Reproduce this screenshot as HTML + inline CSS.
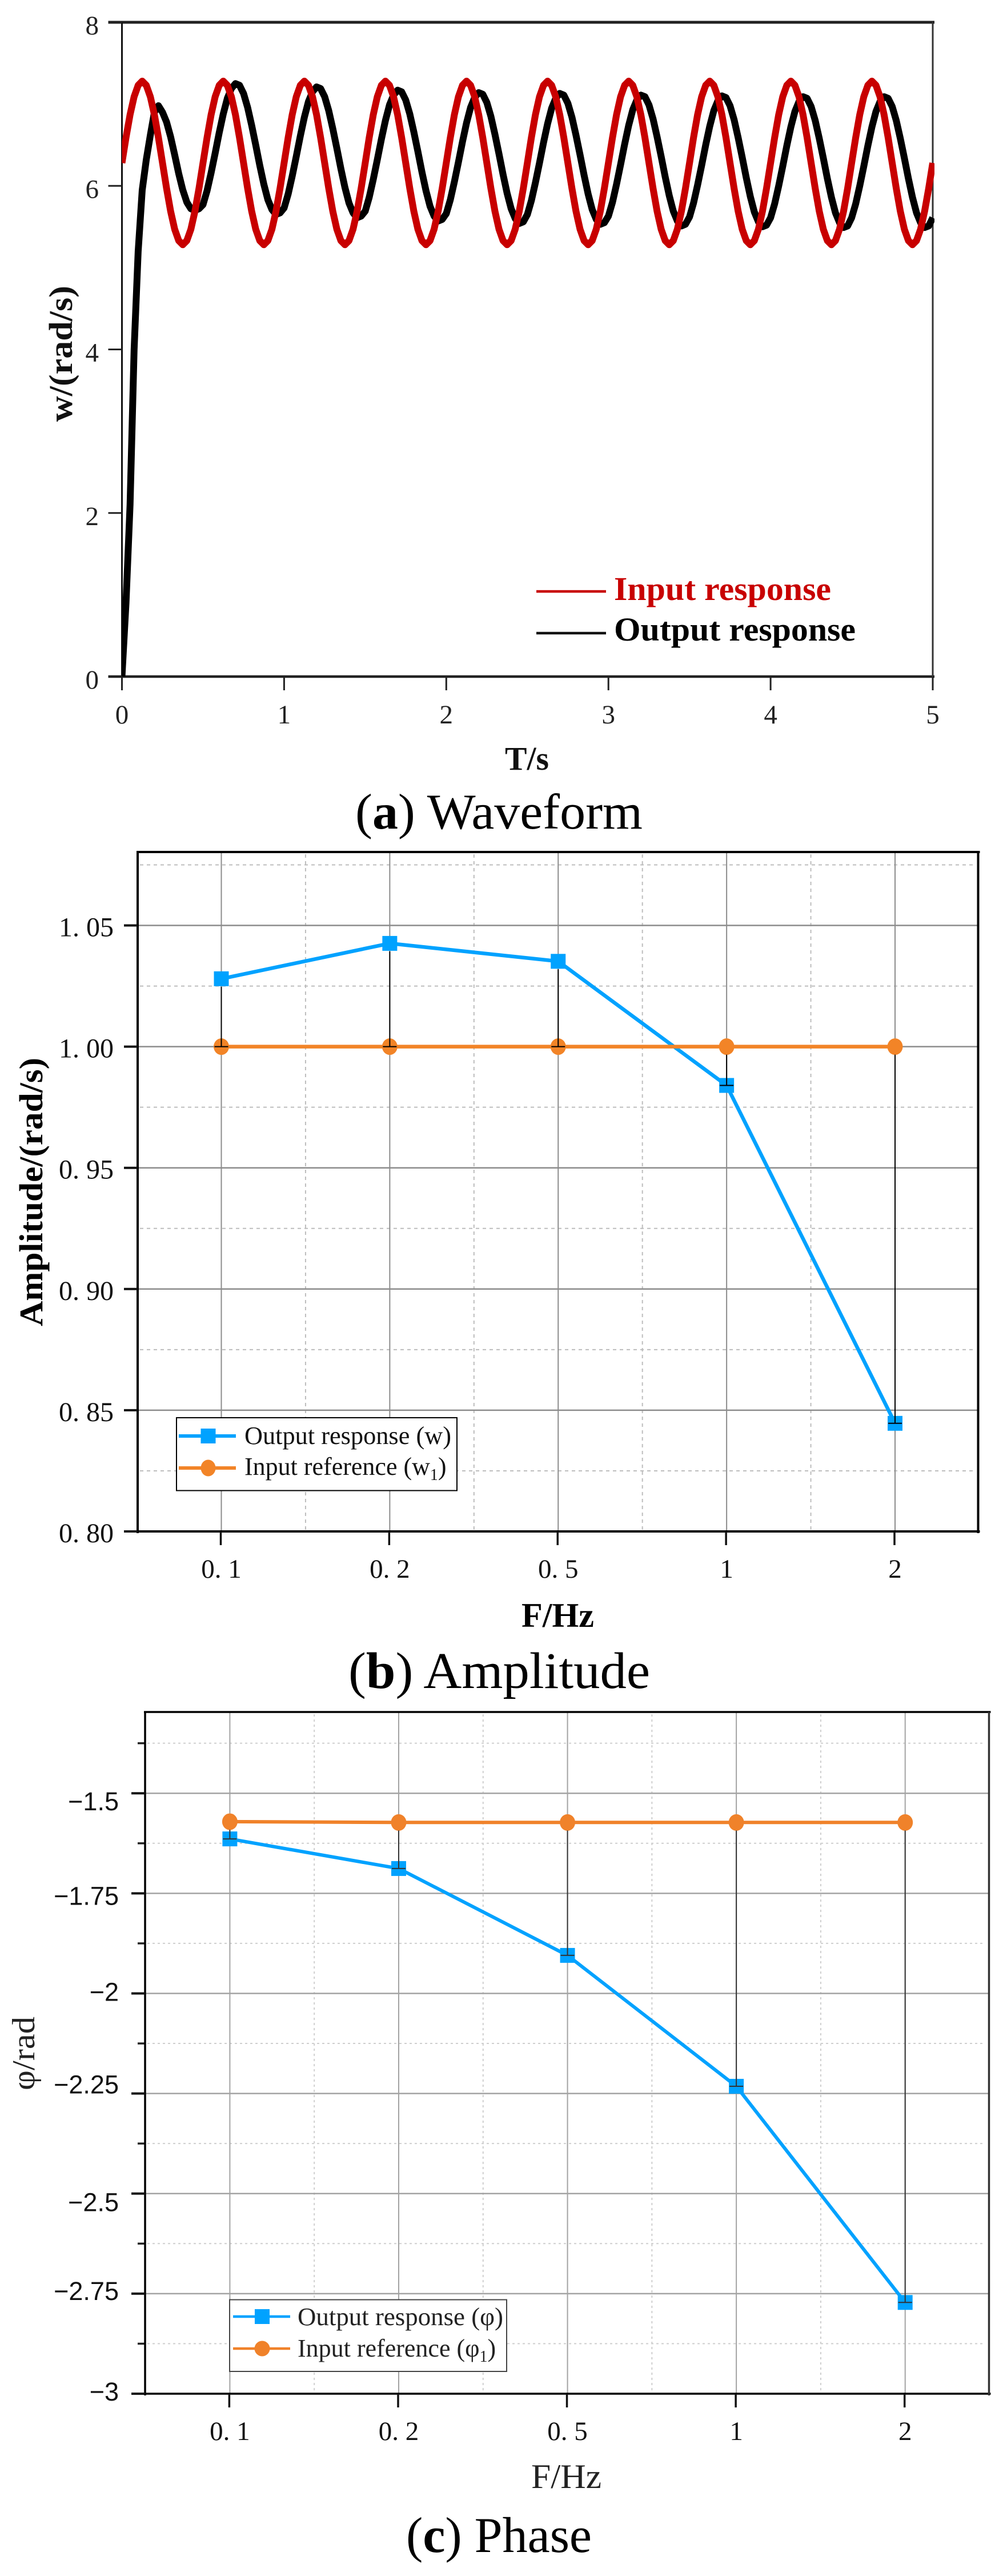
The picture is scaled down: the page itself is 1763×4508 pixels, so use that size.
<!DOCTYPE html>
<html lang="en">
<head>
<meta charset="utf-8">
<title>Waveform, amplitude and phase response</title>
<style>
html,body{margin:0;padding:0;background:#fff;}
svg{display:block;}
text{font-family:"Liberation Serif",serif;fill:#111;}
.sans{font-family:"Liberation Sans",sans-serif;}
</style>
</head>
<body>
<svg id="figure" xmlns="http://www.w3.org/2000/svg" width="1763" height="4508" viewBox="0 0 1763 4508">
  <rect x="0" y="0" width="1763" height="4508" fill="#fff"/>
  <defs>
    <clipPath id="clip-a"><rect x="213" y="39" width="423" height="10"/></clipPath>
  </defs>

  <!-- Panel a -->
  <g id="panel-a"></g>
  <g>
    <line x1="939" x2="1061" y1="1035" y2="1035" stroke="#c80000" stroke-width="4.5"/>
    <text x="1075" y="1050" font-size="58" font-weight="bold" textLength="380" lengthAdjust="spacingAndGlyphs" style="fill:#c80000">Input response</text>
    <line x1="939" x2="1061" y1="1108" y2="1108" stroke="#111" stroke-width="4.5"/>
    <text x="1075" y="1121" font-size="58" font-weight="bold" textLength="423" lengthAdjust="spacingAndGlyphs" style="fill:#000">Output response</text>
  </g>
  <text x="884" y="1347" font-size="58" font-weight="bold" textLength="77" lengthAdjust="spacingAndGlyphs">T/s</text>
  <text transform="translate(126,738) rotate(-90)" font-size="58" font-weight="bold" textLength="238" lengthAdjust="spacingAndGlyphs">w/(rad/s)</text>
  <text x="622" y="1450" font-size="88" textLength="503" lengthAdjust="spacingAndGlyphs" style="fill:#000">(<tspan font-weight="bold">a</tspan>) Waveform</text>

  <!-- Panel b -->
  <g id="panel-b"></g>
  <g>
    <rect x="309" y="2481" width="491" height="127.5" fill="#fff" stroke="#000" stroke-width="2"/>
    <line x1="313" x2="413" y1="2513" y2="2513" stroke="#00a2ff" stroke-width="6"/>
    <rect x="351.5" y="2500" width="26" height="26" fill="#00a2ff"/>
    <text x="428" y="2527" font-size="44" textLength="362" lengthAdjust="spacingAndGlyphs">Output response (w)</text>
    <line x1="313" x2="413" y1="2569" y2="2569" stroke="#f28427" stroke-width="6"/>
    <ellipse cx="364.5" cy="2569" rx="13" ry="14.5" fill="#f28427"/>
    <text x="428" y="2581" font-size="44">Input reference (w<tspan dy="9" font-size="28">1</tspan><tspan dy="-9">)</tspan></text>
  </g>
  <text x="913" y="2847" font-size="60" font-weight="bold" textLength="127" lengthAdjust="spacingAndGlyphs" style="fill:#000">F/Hz</text>
  <text transform="translate(74,2321) rotate(-90)" font-size="58" font-weight="bold" textLength="470" lengthAdjust="spacingAndGlyphs" style="fill:#000">Amplitude/(rad/s)</text>
  <text x="610" y="2954" font-size="90" textLength="528" lengthAdjust="spacingAndGlyphs" style="fill:#000">(<tspan font-weight="bold">b</tspan>) Amplitude</text>

  <!-- Panel c -->
  <g id="panel-c"></g>
  <g>
    <rect x="402" y="4024.5" width="485" height="125.5" fill="#fff" stroke="#444" stroke-width="2"/>
    <line x1="408" x2="508" y1="4054" y2="4054" stroke="#00a2ff" stroke-width="4.5"/>
    <rect x="446" y="4041" width="26" height="26" fill="#00a2ff"/>
    <text x="521" y="4069" font-size="44" textLength="360" lengthAdjust="spacingAndGlyphs" style="fill:#222">Output response (φ)</text>
    <line x1="408" x2="508" y1="4110" y2="4110" stroke="#f0822a" stroke-width="4.5"/>
    <ellipse cx="459" cy="4110" rx="13.5" ry="13.5" fill="#f0822a"/>
    <text x="521" y="4124" font-size="44" style="fill:#222">Input reference (φ<tspan dy="9" font-size="28">1</tspan><tspan dy="-9">)</tspan></text>
  </g>
  <text x="930" y="4354" font-size="60" textLength="123" lengthAdjust="spacingAndGlyphs" style="fill:#222">F/Hz</text>
  <text transform="translate(60,3658) rotate(-90)" font-size="56" textLength="129" lengthAdjust="spacingAndGlyphs" style="fill:#222">φ/rad</text>
  <text x="711" y="4466" font-size="88" textLength="325" lengthAdjust="spacingAndGlyphs" style="fill:#000">(<tspan font-weight="bold">c</tspan>) Phase</text>
</svg>

<script>
// ---------- Panel (a) data: waveform, sampled every 0.025 s ----------
const waveTimeStep = 0.025;
const waveInput = [
6.28,6.59,6.87,7.09,7.23,7.28,7.23,7.09,6.87,6.59,6.28,5.97,5.69,5.47,5.33,5.28,5.33,5.47,5.69,5.97,
6.28,6.59,6.87,7.09,7.23,7.28,7.23,7.09,6.87,6.59,6.28,5.97,5.69,5.47,5.33,5.28,5.33,5.47,5.69,5.97,
6.28,6.59,6.87,7.09,7.23,7.28,7.23,7.09,6.87,6.59,6.28,5.97,5.69,5.47,5.33,5.28,5.33,5.47,5.69,5.97,
6.28,6.59,6.87,7.09,7.23,7.28,7.23,7.09,6.87,6.59,6.28,5.97,5.69,5.47,5.33,5.28,5.33,5.47,5.69,5.97,
6.28,6.59,6.87,7.09,7.23,7.28,7.23,7.09,6.87,6.59,6.28,5.97,5.69,5.47,5.33,5.28,5.33,5.47,5.69,5.97,
6.28,6.59,6.87,7.09,7.23,7.28,7.23,7.09,6.87,6.59,6.28,5.97,5.69,5.47,5.33,5.28,5.33,5.47,5.69,5.97,
6.28,6.59,6.87,7.09,7.23,7.28,7.23,7.09,6.87,6.59,6.28,5.97,5.69,5.47,5.33,5.28,5.33,5.47,5.69,5.97,
6.28,6.59,6.87,7.09,7.23,7.28,7.23,7.09,6.87,6.59,6.28,5.97,5.69,5.47,5.33,5.28,5.33,5.47,5.69,5.97,
6.28,6.59,6.87,7.09,7.23,7.28,7.23,7.09,6.87,6.59,6.28,5.97,5.69,5.47,5.33,5.28,5.33,5.47,5.69,5.97,
6.28,6.59,6.87,7.09,7.23,7.28,7.23,7.09,6.87,6.59,6.28,5.97,5.69,5.47,5.33,5.28,5.33,5.47,5.69,5.97,
6.28];
const waveOutput = [
0,0.9,2.1,4.0,5.2,5.95,6.32,6.62,6.9,6.98,6.90,6.78,6.60,6.38,6.15,5.95,5.80,5.72,5.70,5.72,
5.77,5.94,6.16,6.40,6.65,6.88,7.07,7.19,7.25,7.23,7.13,6.96,6.74,6.50,6.25,6.02,5.83,5.71,5.65,5.67,
5.73,5.90,6.12,6.36,6.61,6.84,7.03,7.15,7.21,7.19,7.09,6.92,6.70,6.46,6.21,5.98,5.79,5.67,5.61,5.63,
5.69,5.86,6.08,6.32,6.57,6.80,6.99,7.11,7.17,7.15,7.05,6.88,6.66,6.42,6.17,5.94,5.75,5.63,5.57,5.59,
5.66,5.83,6.05,6.29,6.54,6.77,6.96,7.08,7.14,7.12,7.02,6.85,6.63,6.39,6.14,5.91,5.72,5.60,5.54,5.56,
5.65,5.82,6.04,6.28,6.53,6.76,6.95,7.07,7.13,7.11,7.01,6.84,6.62,6.38,6.13,5.90,5.71,5.59,5.53,5.55,
5.63,5.80,6.02,6.26,6.51,6.74,6.93,7.05,7.11,7.09,6.99,6.82,6.60,6.36,6.11,5.88,5.69,5.57,5.51,5.53,
5.62,5.79,6.01,6.25,6.50,6.73,6.92,7.04,7.10,7.08,6.98,6.81,6.59,6.35,6.10,5.87,5.68,5.56,5.50,5.52,
5.61,5.78,6.00,6.24,6.49,6.72,6.91,7.03,7.09,7.07,6.97,6.80,6.58,6.34,6.09,5.86,5.67,5.55,5.49,5.51,
5.61,5.78,6.00,6.24,6.49,6.72,6.91,7.03,7.09,7.07,6.97,6.80,6.58,6.34,6.09,5.86,5.67,5.55,5.49,5.51,
5.61];
const waveXTicks = [0,1,2,3,4,5];
const waveYTicks = [0,2,4,6,8];

// ---------- Panel (b) data: amplitude ----------
const freqLabels = ["0. 1","0. 2","0. 5","1","2"];
const ampOutput = [1.028,1.0426,1.0352,0.984,0.8446];
const ampInput = [1,1,1,1,1];
const ampYTicks = [0.80,0.85,0.90,0.95,1.00,1.05];
const ampYTickLabels = ["0. 80","0. 85","0. 90","0. 95","1. 00","1. 05"];
const ampYMinor = [0.825,0.875,0.925,0.975,1.025,1.075];

// ---------- Panel (c) data: phase ----------
const phaseOutput = [-1.614,-1.688,-1.905,-2.232,-2.772];
const phaseInput = [-1.571,-1.573,-1.573,-1.573,-1.573];
const phaseYTicks = [-3,-2.75,-2.5,-2.25,-2,-1.75,-1.5];
const phaseYTickLabels = ["\u22123","\u22122.75","\u22122.5","\u22122.25","\u22122","\u22121.75","\u22121.5"];
const phaseYMinor = [-2.875,-2.625,-2.375,-2.125,-1.875,-1.625,-1.375];

const NS = "http://www.w3.org/2000/svg";
function make(parent, tag, attrs, txt) {
  const el = document.createElementNS(NS, tag);
  for (const k in attrs) el.setAttribute(k, attrs[k]);
  if (txt !== undefined) el.textContent = txt;
  parent.appendChild(el);
  return el;
}
function hline(parent, x1, x2, y, stroke, w, dash) {
  const el = make(parent, "line", {x1:x1, x2:x2, y1:y, y2:y, stroke:stroke, "stroke-width":w});
  if (dash) el.setAttribute("stroke-dasharray", dash);
  return el;
}
function vline(parent, x, y1, y2, stroke, w, dash) {
  const el = make(parent, "line", {x1:x, x2:x, y1:y1, y2:y2, stroke:stroke, "stroke-width":w});
  if (dash) el.setAttribute("stroke-dasharray", dash);
  return el;
}

/* ===== Panel (a) ===== */
(function () {
  const g = document.getElementById("panel-a");
  const box = {l:213.5, r:1633, t:39, b:1184};
  const xA = v => box.l + (v - 0) * (box.r - box.l) / 5;
  const yA = v => box.b - (v - 0) * (box.b - box.t) / 8;

  const clip = document.querySelector("#clip-a rect");
  clip.setAttribute("x", box.l);
  clip.setAttribute("y", box.t);
  clip.setAttribute("width", box.r - box.l + 3);
  clip.setAttribute("height", box.b - box.t);

  const top = hline(g, box.l - 24, box.r + 3, box.t, "#222", 5);
  
  
  const bottom = hline(g, box.l - 24, box.r + 3, box.b, "#222", 4.5);
  
  
  const left = vline(g, box.l, box.t, box.b + 24, "#111", 3);
  
  
  const right = vline(g, box.r, box.t, box.b + 24, "#333", 3);
  
  

  waveYTicks.forEach(v => {
    const y = yA(v);
    const tick = hline(g, box.l - 24, box.l, y, "#222", 3);
    
    
    const lab = make(g, "text", {x:173, y:y + 21, "text-anchor":"end", "font-size":47, style:"fill:#222"}, String(v));
    
    
  });
  waveXTicks.forEach(v => {
    const x = xA(v);
    const tick = vline(g, x, box.b, box.b + 24, "#222", 3);
    
    
    const lab = make(g, "text", {x:x, y:1266, "text-anchor":"middle", "font-size":47, style:"fill:#222"}, String(v));
    
    
  });

  const pts = arr => arr.map((v, i) => xA(i * waveTimeStep).toFixed(1) + "," + yA(v).toFixed(1)).join(" ");
  const outLine = make(g, "polyline", {points:pts(waveOutput), fill:"none", stroke:"#000", "stroke-width":12, "stroke-linejoin":"round", "clip-path":"url(#clip-a)"});
  
  
  const inLine = make(g, "polyline", {points:pts(waveInput), fill:"none", stroke:"#c80000", "stroke-width":12, "stroke-linejoin":"round", "clip-path":"url(#clip-a)"});
  
  
})();

/* ===== Shared category chart for panels (b) and (c) ===== */
function categoryChart(g, opt) {
  const box = opt.box;
  const step = (box.x4 - box.x0) / 4;
  const xC = i => box.x0 + i * step;
  const yC = v => box.b - (v - opt.yMin) * (box.b - box.t) / (opt.yMax - opt.yMin);

  // minor grid
  opt.minorY.forEach(v => {
    const ln = hline(g, box.l + 4, box.r - 8, yC(v), opt.minorColor, 2, opt.minorDash);
    
    
    if (opt.minorTicks) {
      const t = hline(g, box.l - 13, box.l, yC(v), "#222", 3.5);
      
      
    }
  });
  for (let i = 0; i < 4; i++) {
    const ln = vline(g, xC(i + 0.5), box.t + 4, box.b, opt.minorColor, 2, opt.minorDash);
    
    
  }
  // major grid
  opt.ticks.forEach(v => {
    const ln = hline(g, box.l, box.r, yC(v), opt.gridColor, 2.5);
    
    
  });
  opt.labels.forEach((lab, i) => {
    const ln = vline(g, xC(i), box.t, box.b, opt.gridColor, 2);
    
    
  });

  // axes frame
  const top = hline(g, box.l - 2, box.r + 3, box.t, "#000", opt.axisW);
  
  
  const bot = hline(g, box.l - 24, box.r + 3, box.b, "#000", opt.axisW);
  
  
  const lft = vline(g, box.l, box.t, box.b + 3, "#000", opt.axisW);
  
  
  const rgt = vline(g, box.r, box.t, box.b + 3, opt.rightColor, opt.axisW);
  
  

  // ticks + labels
  opt.ticks.forEach((v, i) => {
    const y = yC(v);
    const tk = hline(g, box.l - 24, box.l, y, "#111", 4);
    
    
    const lab = make(g, "text", {x:opt.yLabelRight, y:y + opt.labelNudge(i), "text-anchor":"end", "font-size":opt.yLabelSize, class:opt.yLabelClass, style:"fill:#111"}, opt.tickLabels[i]);
    
    
  });
  opt.labels.forEach((t, i) => {
    const x = xC(i);
    const tk = vline(g, x - 1, box.b, box.b + 24, "#111", 3.5);
    
    
    const lab = make(g, "text", {x:x, y:opt.xLabelBase, "text-anchor":"middle", "font-size":47, style:"fill:#111"}, t);
    
    
  });

  // series lines
  const pts = arr => arr.map((v, i) => xC(i).toFixed(1) + "," + yC(v).toFixed(1)).join(" ");
  const outL = make(g, "polyline", {points:pts(opt.output), fill:"none", stroke:"#00a2ff", "stroke-width":opt.lineW});
  
  
  const inL = make(g, "polyline", {points:pts(opt.input), fill:"none", stroke:opt.orange, "stroke-width":opt.lineW});
  
  

  // markers
  opt.output.forEach((v, i) => {
    const m = make(g, "rect", {x:xC(i) - 13, y:yC(v) - 13, width:26, height:26, fill:"#00a2ff"});
    
    
  });
  opt.input.forEach((v, i) => {
    const m = make(g, "ellipse", {cx:xC(i), cy:yC(v), rx:13.5, ry:14.5, fill:opt.orange});
    
    
  });

  // error bars between the two series, cap on the lower value
  opt.output.forEach((v, i) => {
    const yo = yC(v), yi = yC(opt.input[i]);
    const upper = Math.min(yo, yi), lower = Math.max(yo, yi);
    const bar = vline(g, xC(i), upper + 14, lower, opt.barColor, 2);
    
    
    const cap = hline(g, xC(i) - 12, xC(i) + 12, lower, opt.barColor, 2);
    
    
  });
}

/* ===== Panel (b) ===== */
categoryChart(document.getElementById("panel-b"), {
  box:{l:241, r:1712.5, t:1491, b:2680, x0:387.5, x4:1567},
  yMin:0.80, yMax:1.0803,
  ticks:ampYTicks, tickLabels:ampYTickLabels, minorY:ampYMinor, labels:freqLabels,
  output:ampOutput, input:ampInput,
  minorColor:"#bdbdbd", minorDash:"6 6", minorTicks:false,
  gridColor:"#8c8c8c", axisW:4, rightColor:"#000", lineW:6.5,
  yLabelRight:199, yLabelSize:48, yLabelClass:"", xLabelBase:2761,
  labelNudge:function(){ return 19; },
  orange:"#f28427", barColor:"#000"
});

/* ===== Panel (c) ===== */
const phaseLabelShift = [12, 11, 31, 0, 13, 20, 30]; // irregular label placement in the figure (bottom to top)
categoryChart(document.getElementById("panel-c"), {
  box:{l:254, r:1731.5, t:2996, b:4189, x0:402.4, x4:1584.7},
  yMin:-3, yMax:-1.297,
  ticks:phaseYTicks, tickLabels:phaseYTickLabels, minorY:phaseYMinor, labels:freqLabels,
  output:phaseOutput, input:phaseInput,
  minorColor:"#cfcfcf", minorDash:"4 5", minorTicks:true,
  gridColor:"#a3a3a3", axisW:3.5, rightColor:"#333", lineW:6,
  yLabelRight:208, yLabelSize:45, yLabelClass:"sans", xLabelBase:4270,
  labelNudge:function(i){ return phaseLabelShift[i]; },
  orange:"#f0822a", barColor:"#333"
});
</script>
</body>
</html>
